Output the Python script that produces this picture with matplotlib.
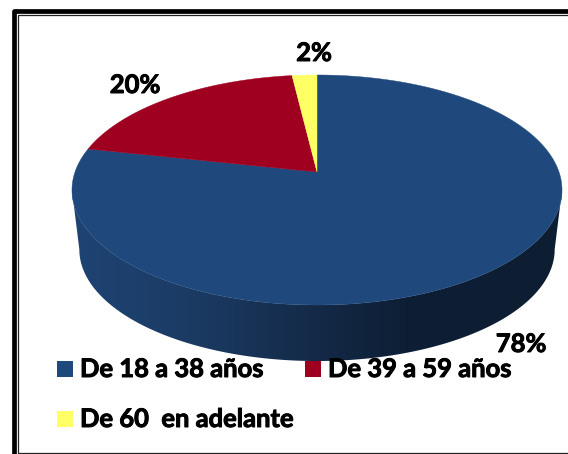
import numpy as np
import matplotlib
matplotlib.use('Agg')
import matplotlib.pyplot as plt
import matplotlib.patheffects as pe
from matplotlib.colors import LinearSegmentedColormap
from matplotlib.patches import Polygon, Rectangle

plt.rcParams['font.family'] = ['Lato', 'DejaVu Sans']

# Data
categories = ['De 18 a 38 años', 'De 39 a 59 años', 'De 60  en adelante']
shares = [78.4, 19.7, 1.9]
pct_labels = ['78%', '20%', '2%']
colors = ['#1F497D', '#A00020', '#FFFF66']

# Pie geometry in pixels, tilted with a small perspective
CX, CY = 317, 172
R, S, K = 242, 112.2, 0.1565


def project(angle, scale=1.0, dy=0.0):
    # angle is clockwise from the top of the pie, in degrees
    a = np.radians(angle)
    u, v = np.sin(a), np.cos(a)
    w = 1 + K * v
    return CX + scale * R * u / w, CY + dy - scale * S * v / w


fig = plt.figure(figsize=(5.68, 4.54), dpi=100)
ax = fig.add_axes([0, 0, 1, 1])
ax.set_xlim(0, 568)
ax.set_ylim(454, 0)
ax.axis('off')

# Double frame, open on the right
ax.plot([568, 13.5, 13.5], [10.5, 10.5, 454], color='black', lw=3.4, solid_joinstyle='round')
ax.plot([568, 17.5, 17.5, 568], [14.5, 14.5, 452.5, 452.5], color='#222222', lw=0.9)

# Side wall of the pie, with a horizontal shade
angles = np.linspace(0, 360, 1441)
tx, ty = project(angles)
left = angles[np.argmin(tx)]
right = angles[np.argmax(tx)]
front = np.linspace(right, left, 400)
fx, fy = project(front)
bx, by = project(front, scale=0.97, dy=60)
wall = Polygon(np.column_stack([np.r_[fx, bx[::-1]], np.r_[fy, by[::-1]]]),
               closed=True, fc='none', ec='none', transform=ax.transData)
ax.add_patch(wall)
shade = LinearSegmentedColormap.from_list('shade', [
    (0.00, '#1E4474'), (0.26, '#1B3A62'), (0.49, '#142A48'),
    (0.68, '#0E1F35'), (1.00, '#0D1E33')])
img = ax.imshow(np.linspace(0, 1, 490)[None, :], cmap=shade, extent=[72, 562, 370, 180],
                aspect='auto', zorder=1)
img.set_clip_path(wall)
ax.set_xlim(0, 568)
ax.set_ylim(454, 0)

# Top of the pie, slices run clockwise from 12 o'clock
start = 0
for share, color in zip(shares, colors):
    end = start + share / sum(shares) * 360
    x, y = project(np.linspace(start, end, 300))
    ax.add_patch(Polygon(np.column_stack([np.r_[CX, x], np.r_[CY, y]]), closed=True,
                         fc=color, ec=color, lw=0.3, zorder=2))
    start = end

# The reference text is heavier than Lato Bold
heavy = [pe.withStroke(linewidth=0.7, foreground='black')]

# Data labels
label_pos = [(521, 344), (135, 85), (314, 53)]
for text, (lx, ly) in zip(pct_labels, label_pos):
    ax.text(lx, ly, text, fontsize=18.4, fontweight='bold', color='black',
            ha='center', va='center', zorder=4, path_effects=heavy)

# Legend
legend_pos = [(57, 369), (305, 369), (57, 419)]
for name, color, (lx, ly) in zip(categories, colors, legend_pos):
    ax.add_patch(Rectangle((lx, ly - 8), 16, 16, fc=color, ec='none', zorder=3))
    ax.text(lx + 23, ly, name, fontsize=18.4, fontweight='bold', color='black',
            ha='left', va='center', zorder=4, path_effects=heavy)

plt.savefig('out.png', dpi=100)
plt.close()
